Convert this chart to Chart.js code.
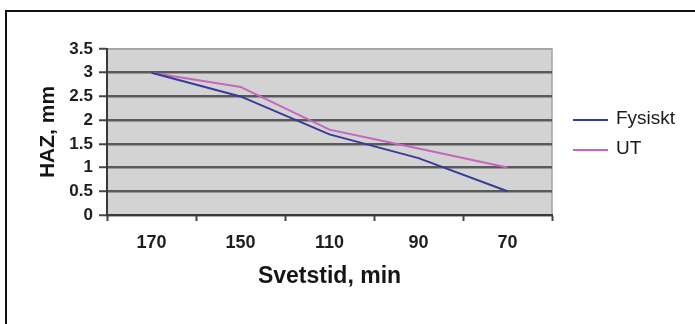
<!DOCTYPE html>
<html>
<head>
<meta charset="utf-8">
<script src="https://cdn.jsdelivr.net/npm/chart.js@4.4.1/dist/chart.umd.min.js"></script>
<style>
  html, body { margin: 0; padding: 0; background: #ffffff; }
  #wrap { position: relative; width: 695px; height: 324px; overflow: hidden; }
  canvas { display: block; }
</style>
</head>
<body>
<div id="wrap"><canvas id="chart" width="695" height="324"></canvas></div>
<script>
// Welding time categories (minutes) and measured HAZ widths (mm)
const categories = ['170', '150', '110', '90', '70'];
const fysisktValues = [3, 2.5, 1.7, 1.2, 0.5];
const utValues = [3, 2.7, 1.8, 1.4, 1.0];
const yTickValues = [0, 0.5, 1, 1.5, 2, 2.5, 3, 3.5];
const seriesNames = ['Fysiskt', 'UT'];
const xTitle = 'Svetstid, min';
const yTitle = 'HAZ, mm';

const FONT = '"Liberation Sans", Arial, sans-serif';

// Grey plot background, light frame, outer border and the legend on the right
const decorations = {
  id: 'decorations',
  beforeDraw(chart) {
    const { ctx, chartArea: a } = chart;
    ctx.save();
    ctx.fillStyle = '#d3d3d3';
    ctx.fillRect(a.left, a.top, a.right - a.left, a.bottom - a.top);
    ctx.strokeStyle = '#a4a4a4';
    ctx.lineWidth = 1.5;
    ctx.beginPath();
    ctx.moveTo(a.left, a.top);
    ctx.lineTo(a.right, a.top);
    ctx.lineTo(a.right, a.bottom);
    ctx.stroke();
    // outer frame
    ctx.strokeStyle = '#111111';
    ctx.lineWidth = 2;
    ctx.beginPath();
    ctx.moveTo(6, chart.height);
    ctx.lineTo(6, 11);
    ctx.lineTo(chart.width, 11);
    ctx.stroke();
    ctx.restore();
  },
  afterDraw(chart) {
    const { ctx, chartArea: a } = chart;
    ctx.save();
    ctx.font = '19px ' + FONT;
    ctx.textBaseline = 'middle';
    ctx.textAlign = 'left';
    chart.data.datasets.forEach((ds, i) => {
      const y = 119 + i * 30;
      ctx.strokeStyle = ds.borderColor;
      ctx.lineWidth = 2;
      ctx.beginPath();
      ctx.moveTo(a.right + 21, y + 1);
      ctx.lineTo(a.right + 56, y + 1);
      ctx.stroke();
      ctx.fillStyle = '#1a1a1a';
      ctx.fillText(ds.label, a.right + 64, y);
    });
    ctx.restore();
  }
};

new Chart(document.getElementById('chart'), {
  type: 'line',
  data: {
    labels: categories,
    datasets: [
      {
        label: seriesNames[0],
        data: fysisktValues,
        borderColor: '#3a3a98',
        borderWidth: 2,
        pointRadius: 0,
        tension: 0,
        fill: false
      },
      {
        label: seriesNames[1],
        data: utValues,
        borderColor: '#c764bf',
        borderWidth: 2,
        pointRadius: 0,
        tension: 0,
        fill: false
      }
    ]
  },
  options: {
    responsive: false,
    animation: false,
    events: [],
    layout: { padding: { left: 0, right: 143, top: 49, bottom: 0 } },
    plugins: {
      legend: { display: false },
      tooltip: { enabled: false },
      title: { display: false }
    },
    scales: {
      x: {
        type: 'category',
        offset: true,
        grid: {
          display: true,
          drawOnChartArea: false,
          drawTicks: true,
          tickLength: 6,
          tickColor: '#444444',
          tickWidth: 2,
          offset: true
        },
        border: { display: true, color: '#3a3a3a', width: 2 },
        ticks: {
          color: '#1e1e1e',
          font: { family: FONT, size: 18, weight: 'bold' },
          padding: 11,
          maxRotation: 0
        },
        title: {
          display: true,
          text: xTitle,
          color: '#151515',
          font: { family: FONT, size: 23, weight: 'bold' },
          padding: { top: 0, bottom: 34 }
        },
        afterFit(scale) { scale.height = 109; }
      },
      y: {
        min: 0,
        max: 3.5,
        afterBuildTicks(scale) {
          scale.ticks = yTickValues.map(v => ({ value: v }));
        },
        grid: {
          display: true,
          drawTicks: true,
          tickLength: 8,
          tickWidth: 2,
          tickColor: '#444444',
          lineWidth: (c) => (c.tick && c.tick.value === 3.5 ? 1.5 : 2.5),
          color: (c) => (c.tick && c.tick.value === 3.5 ? '#a4a4a4' : '#5a5a5a')
        },
        border: { display: true, color: '#3a3a3a', width: 2 },
        ticks: {
          color: '#1e1e1e',
          font: { family: FONT, size: 17, weight: 'bold' },
          padding: 6,
          callback: (v) => String(v)
        },
        title: {
          display: true,
          text: yTitle,
          color: '#151515',
          font: { family: FONT, size: 21, weight: 'bold' },
          padding: { top: 36, bottom: 0 }
        },
        afterFit(scale) { scale.width = 107; }
      }
    }
  },
  plugins: [decorations]
});
</script>
</body>
</html>
